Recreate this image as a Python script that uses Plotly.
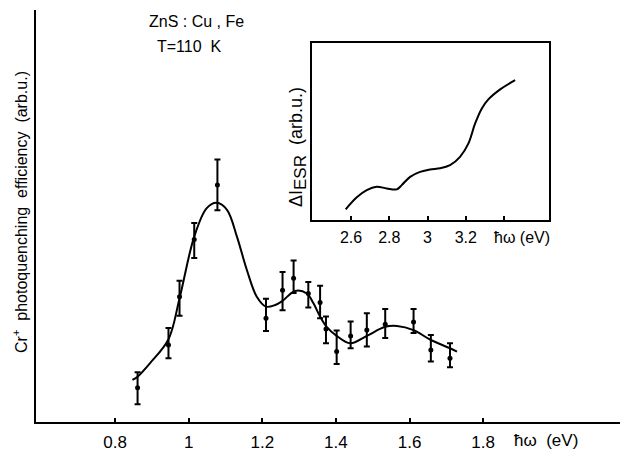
import plotly.graph_objects as go

# ---- main data: photoquenching efficiency (arb. units) ----
pts_x = [0.861, 0.945, 0.975, 1.015, 1.078, 1.210, 1.255, 1.285, 1.325,
         1.357, 1.373, 1.402, 1.440, 1.484, 1.534, 1.611, 1.658, 1.710]
pts_y = [0.83, 1.87, 3.04, 4.43, 5.75, 2.52, 3.20, 3.49, 3.12,
         2.90, 2.26, 1.71, 2.09, 2.23, 2.37, 2.43, 1.75, 1.55]
err_plus = [0.38, 0.41, 0.39, 0.40, 0.62, 0.47, 0.44, 0.43, 0.28,
            0.41, 0.30, 0.51, 0.35, 0.41, 0.37, 0.31, 0.36, 0.36]
err_minus = [0.40, 0.32, 0.46, 0.45, 0.61, 0.31, 0.49, 0.36, 0.34,
             0.38, 0.35, 0.30, 0.30, 0.40, 0.33, 0.27, 0.28, 0.22]

curve_x = [0.847, 0.861, 0.895, 0.945, 0.975, 1.015, 1.049, 1.076, 1.104,
           1.131, 1.158, 1.185, 1.210, 1.235, 1.255, 1.289, 1.321, 1.339,
           1.357, 1.375, 1.402, 1.439, 1.484, 1.534, 1.566, 1.611, 1.658,
           1.710, 1.729]
curve_y = [1.02, 1.10, 1.43, 2.01, 3.00, 4.50, 5.19, 5.32, 5.15,
           4.50, 3.69, 3.04, 2.80, 2.84, 2.94, 3.18, 3.12, 2.88,
           2.56, 2.31, 2.09, 1.91, 2.09, 2.31, 2.33, 2.23, 1.99,
           1.79, 1.71]

main_ticks = [0.8, 1.0, 1.2, 1.4, 1.6, 1.8]
main_ticktext = ["0.8", "1", "1.2", "1.4", "1.6", "1.8"]

# ---- inset data: ESR intensity change (arb. units) ----
inset_x = [2.572, 2.630, 2.682, 2.734, 2.787, 2.839, 2.865, 2.909, 2.961,
           3.013, 3.066, 3.118, 3.170, 3.214, 3.249, 3.284, 3.318, 3.380, 3.458]
inset_y = [0.61, 1.29, 1.70, 1.89, 1.79, 1.74, 1.98, 2.45, 2.73,
           2.87, 2.93, 3.11, 3.58, 4.34, 5.47, 6.32, 6.83, 7.40, 7.92]
inset_ticks = [2.6, 2.8, 3.0, 3.2]
inset_ticktext = ["2.6", "2.8", "3", "3.2"]
inset_minor_ticks = [3.4]

FONT = "Liberation Sans"
fig = go.Figure()

fig.add_trace(go.Scatter(
    x=curve_x, y=curve_y, mode="lines",
    line=dict(color="black", width=2, shape="spline", smoothing=1.0),
    hoverinfo="skip", showlegend=False, xaxis="x", yaxis="y"))

fig.add_trace(go.Scatter(
    x=pts_x, y=pts_y, mode="markers",
    marker=dict(color="black", size=5),
    error_y=dict(type="data", array=err_plus, arrayminus=err_minus,
                 color="black", thickness=2, width=3, symmetric=False),
    showlegend=False, xaxis="x", yaxis="y"))

fig.add_trace(go.Scatter(
    x=inset_x, y=inset_y, mode="lines",
    line=dict(color="black", width=2, shape="spline", smoothing=1.0),
    showlegend=False, xaxis="x2", yaxis="y2"))

L, T, W, H = 36, 10, 584, 412

fig.update_layout(
    width=620, height=453,
    margin=dict(l=L, r=620 - L - W, t=T, b=453 - T - H, autoexpand=False),
    paper_bgcolor="white", plot_bgcolor="white",
    font=dict(family=FONT, size=16, color="black"),
    xaxis=dict(range=[0.585, 2.172], tickvals=main_ticks, ticktext=main_ticktext,
               ticks="inside", ticklen=4, tickwidth=1.5, tickcolor="black",
               ticklabelstandoff=4,
               showline=True, linecolor="black", linewidth=2, showgrid=False,
               zeroline=False, tickfont=dict(size=17)),
    yaxis=dict(range=[0, 10], showticklabels=False, ticks="",
               showline=True, linecolor="black", linewidth=2, showgrid=False,
               zeroline=False),
    xaxis2=dict(domain=[0.472, 0.879], anchor="y2", range=[2.394, 3.637],
                tickvals=inset_ticks, ticktext=inset_ticktext,
                ticks="inside", ticklen=4, tickwidth=1.5, tickcolor="black",
                ticklabelstandoff=2,
                minor=dict(tickvals=inset_minor_ticks, ticks="inside", ticklen=4,
                           tickwidth=1.5, tickcolor="black", showgrid=False),
                showline=True, mirror=True, linecolor="black", linewidth=2,
                showgrid=False, zeroline=False, tickfont=dict(size=16)),
    yaxis2=dict(domain=[0.490, 0.919], anchor="x2", range=[0, 10],
                showticklabels=False, ticks="",
                showline=True, mirror=True, linecolor="black", linewidth=2,
                showgrid=False, zeroline=False),
)

def px(xp):
    return (xp - L) / W
def py(yp):
    return (T + H - yp) / H

def ann(text, x, y, size, angle=0, xanchor="center"):
    return dict(text=text, x=px(x), y=py(y), xref="paper", yref="paper",
                xanchor=xanchor, yanchor="middle", textangle=angle,
                showarrow=False, font=dict(size=size))

anns = [
    ann("ZnS : Cu , Fe", 196, 22, 16),
    ann("T=110\u00a0\u00a0K", 189, 47, 16),
    ann("ħω\u00a0\u00a0(eV)", 512, 440, 17, xanchor="left"),
    ann("ħω\u00a0(eV)", 492, 237, 16, xanchor="left"),
    ann("Cr<sup>+</sup>\u00a0\u00a0photoquenching\u00a0\u00a0efficiency\u00a0\u00a0(arb.u.)",
        20, 212, 16, angle=-90),
    ann("ΔI<sub><span style=\"font-size:17px\">ESR</span></sub>\u00a0\u00a0(arb.u.)",
        298, 147, 18, angle=-90),
]
fig.update_layout(annotations=anns)

fig.write_html("out.html", config={"displayModeBar": False},
               post_script="document.body.style.margin='0';")
